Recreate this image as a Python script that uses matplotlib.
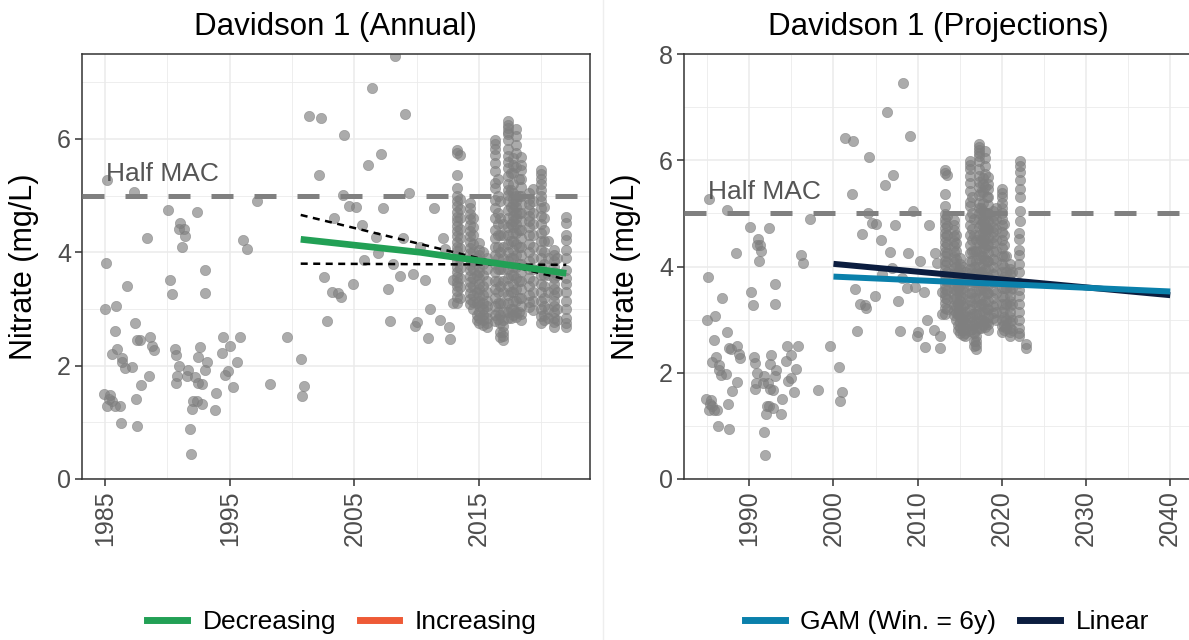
import numpy as np
import matplotlib
matplotlib.use('Agg')
import matplotlib.pyplot as plt
from matplotlib.lines import Line2D
from matplotlib.ticker import MultipleLocator

plt.rcParams['font.family'] = ['Liberation Sans', 'DejaVu Sans']

# scattered nitrate samples (decimal year, mg/L)
sparse_years = [1984.9, 1985.0, 1985.1, 1985.16, 1985.2, 1985.3, 1985.4, 1985.6, 1985.6, 1985.8,
                1985.8, 1985.9, 1986.0, 1986.2, 1986.3, 1986.4, 1986.4, 1986.6, 1986.8, 1987.2,
                1987.3, 1987.4, 1987.5, 1987.6, 1987.6, 1987.8, 1987.9, 1988.4, 1988.5, 1988.6,
                1988.8, 1988.9, 1990.05, 1990.2, 1990.4, 1990.6, 1990.7, 1990.7, 1990.8, 1990.9,
                1990.9, 1991.0, 1991.2, 1991.3, 1991.4, 1991.6, 1991.7, 1991.8, 1991.9, 1992.0,
                1992.1, 1992.2, 1992.4, 1992.4, 1992.5, 1992.5, 1992.6, 1992.8, 1992.8, 1993.0,
                1993.0, 1993.0, 1993.2, 1993.8, 1993.9, 1994.4, 1994.5, 1994.6, 1994.9, 1995.0,
                1995.3, 1995.6, 1995.8, 1996.1, 1996.4, 1997.2, 1998.2, 1999.6, 2000.7, 2000.8,
                2001.0, 2001.4, 2002.2, 2002.3, 2002.6, 2002.8, 2003.2, 2003.4, 2003.7, 2003.9,
                2004.1, 2004.2, 2004.6, 2004.9, 2005.1, 2005.6, 2005.8, 2006.1, 2006.4, 2006.7,
                2006.9, 2007.1, 2007.3, 2007.7, 2007.9, 2008.1, 2008.3, 2008.7, 2008.9, 2009.1,
                2009.4, 2009.7, 2009.9, 2010.0, 2010.3, 2010.7, 2010.9, 2011.1, 2011.4, 2011.9,
                2012.1, 2012.3, 2012.6, 2012.7, 2012.9, 2012.95]
sparse_vals = [1.50, 3.00, 3.81, 5.27, 1.29, 1.41, 1.48, 2.20, 1.37, 2.61,
               1.29, 3.06, 2.30, 1.29, 0.99, 2.14, 2.06, 1.96, 3.41, 1.98,
               5.06, 2.76, 1.41, 2.46, 0.94, 2.45, 1.66, 4.25, 1.82, 2.50,
               2.35, 2.28, 4.74, 3.52, 3.27, 2.30, 2.19, 1.70, 1.81, 2.00,
               4.41, 4.52, 4.10, 4.41, 4.29, 1.81, 1.93, 0.88, 0.45, 1.23,
               1.37, 1.80, 1.37, 4.72, 2.16, 1.70, 2.33, 1.68, 1.33, 1.93,
               3.68, 3.29, 2.06, 1.22, 1.51, 2.22, 2.51, 1.84, 1.90, 2.34,
               1.63, 2.07, 2.51, 4.21, 4.06, 4.90, 1.68, 2.51, 2.11, 1.47,
               1.64, 6.41, 5.37, 6.37, 3.57, 2.79, 3.30, 4.61, 3.28, 3.21,
               5.01, 6.07, 4.81, 3.45, 4.80, 4.49, 3.86, 5.54, 6.90, 4.27,
               3.98, 5.73, 4.78, 3.36, 2.79, 3.79, 7.46, 3.59, 4.25, 6.45,
               5.05, 3.61, 2.70, 2.77, 4.10, 3.52, 2.49, 3.00, 4.78, 2.81,
               4.25, 4.06, 2.69, 2.47, 3.52, 3.11]

# intensive sampling campaigns from 2013 on
camp_dates = [2013.2, 2013.45, 2014.3, 2014.55, 2014.8, 2015.0, 2015.35, 2015.65, 2016.25,
              2016.5, 2016.7, 2016.95, 2017.3, 2017.55, 2017.75, 2018.0, 2018.2, 2018.4,
              2019.0, 2019.3, 2020.0, 2020.25, 2020.5, 2021.0, 2021.25, 2022.0]
camp_vals = [
    [5.81, 5.76, 5.37, 5.14, 4.99, 4.90, 4.81, 4.72, 4.63, 4.55, 4.46, 4.37, 4.28, 4.19, 4.10,
     4.02, 3.93, 3.84, 3.75, 3.66, 3.57, 3.48, 3.40, 3.31, 3.22, 3.10],
    [5.72, 4.95, 4.76, 4.60, 4.42, 4.25, 4.08, 3.90, 3.72, 3.55, 3.38, 3.20],
    [4.87, 4.78, 4.68, 4.58, 4.48, 4.38, 4.28, 4.18, 4.08, 3.98, 3.88, 3.78, 3.68, 3.58, 3.48,
     3.38, 3.28, 3.18, 3.08],
    [4.60, 4.45, 4.30, 4.15, 4.00, 3.85, 3.70, 3.55, 3.40, 3.25, 3.12, 3.00],
    [3.90, 3.60, 3.30, 3.10, 2.90, 2.80],
    [4.16, 4.05, 3.95, 3.85, 3.75, 3.65, 3.55, 3.45, 3.35, 3.25, 3.15, 3.05, 2.95, 2.85, 2.75],
    [4.00, 3.80, 3.60, 3.40, 3.25, 3.10, 3.00, 2.90, 2.80, 2.72],
    [3.90, 3.70, 3.50, 3.30, 3.15, 3.05, 2.95, 2.85, 2.75, 2.69],
    [5.99, 5.92, 5.83, 5.71, 5.57, 5.43, 5.22, 5.13, 4.93, 4.78, 4.60, 4.40, 4.25, 4.10, 3.95,
     3.80, 3.65, 3.50, 3.35, 3.20, 3.05, 2.90, 2.78],
    [5.30, 5.00, 4.70, 4.50, 4.30, 4.10, 3.90, 3.70, 3.50, 3.30, 3.10, 2.95, 2.82],
    [4.90, 4.60, 4.30, 4.00, 3.70, 3.40, 3.10, 2.90, 2.75, 2.60, 2.50],
    [4.50, 4.30, 4.10, 3.90, 3.70, 3.50, 3.30, 3.10, 2.95, 2.80, 2.70, 2.60, 2.52, 2.45],
    [6.31, 6.25, 6.19, 6.13, 6.08, 5.98, 5.83, 5.70, 5.60, 5.49, 5.34, 5.20, 5.10, 5.01, 4.90,
     4.75, 4.60, 4.45, 4.30, 4.15, 4.00, 3.85, 3.70, 3.55, 3.40, 3.25, 3.10, 2.95, 2.85],
    [5.40, 5.10, 4.80, 4.50, 4.20, 3.90, 3.60, 3.30, 3.00, 2.85],
    [5.67, 5.55, 5.40, 5.20, 5.05, 4.95, 4.85, 4.75, 4.65, 4.55, 4.45, 4.35, 4.20, 4.05, 3.90,
     3.75, 3.60, 3.45, 3.30, 3.15, 3.00, 2.90],
    [6.17, 6.05, 5.90, 5.75, 5.50, 5.00, 4.90, 4.80, 4.70, 4.60, 4.50, 4.35, 4.15, 3.95, 3.75,
     3.55, 3.35, 3.15, 2.95, 2.86],
    [5.30, 5.00, 4.70, 4.40, 4.10, 3.80, 3.50, 3.20, 2.95],
    [5.69, 5.55, 5.45, 5.30, 5.15, 5.00, 4.85, 4.70, 4.55, 4.40, 4.25, 4.10, 3.95, 3.80, 3.65,
     3.50, 3.35, 3.20, 3.05, 2.92, 2.81],
    [5.05, 4.95, 4.85, 4.75, 4.65, 4.55, 4.45, 4.30, 4.15, 4.00, 3.85, 3.70, 3.55, 3.40, 3.25,
     3.12, 3.04],
    [5.11, 4.90, 4.70, 4.50, 4.30, 4.10, 3.90, 3.70, 3.50, 3.30, 3.15, 2.99],
    [5.46, 5.38, 5.30, 5.20, 5.10, 5.00, 4.90, 4.78, 4.65, 4.50, 4.35, 4.20, 4.05, 3.90, 3.75,
     3.60, 3.45, 3.30, 3.15, 3.00, 2.88, 2.76],
    [4.80, 4.60, 4.40, 4.20, 4.00, 3.80, 3.60, 3.40, 3.20, 3.05, 2.90, 2.80],
    [4.20, 3.90, 3.60, 3.30, 3.00, 2.85],
    [4.05, 3.95, 3.85, 3.75, 3.65, 3.55, 3.45, 3.35, 3.25, 3.15, 3.05, 2.95, 2.85, 2.77, 2.69],
    [3.90, 3.60, 3.30, 3.00, 2.80],
    [4.63, 4.51, 4.31, 4.22, 4.05, 3.90, 3.69, 3.55, 3.45, 3.30, 3.15, 3.00, 2.85, 2.75, 2.69],
]

# late 2022 samples only in the projection series
extra_dates = [2022.1, 2022.1, 2022.1, 2022.1, 2022.1, 2022.1, 2022.1, 2022.1, 2022.9, 2022.9]
extra_vals = [5.98, 5.90, 5.78, 5.62, 5.45, 5.30, 5.05, 4.85, 2.55, 2.47]

# trend fit on annual data with confidence bounds
trend_years = [2000.7, 2010.3, 2022.0]
trend_vals = [4.23, 4.00, 3.63]
upper_years = [2000.7, 2022.0]
upper_vals = [4.66, 3.52]
lower_years = [2000.7, 2022.0]
lower_vals = [3.80, 3.78]

# projections to 2040
proj_years = [2000, 2040]
gam_vals = [3.81, 3.53]
linear_vals = [4.05, 3.46]

half_mac = 5.0

x_all = list(sparse_years)
y_all = list(sparse_vals)
for d, vals in zip(camp_dates, camp_vals):
    x_all += [d] * len(vals)
    y_all += vals
x_proj = x_all + extra_dates
y_proj = y_all + extra_vals

col_green = '#22a055'
col_red = '#ee5a36'
col_gam = '#0a80ab'
col_lin = '#0b1d3f'
grid_col = '#ebebeb'
frame_col = '#333333'

fig = plt.figure(figsize=(11.89, 6.4), dpi=100)
ax1 = fig.add_axes([82/1189, 1-479/640, 508/1189, 425/640])
ax2 = fig.add_axes([684/1189, 1-479/640, 509.4/1189, 425/640])


def style(ax, xmaj, ymaj=2):
    ax.xaxis.set_major_locator(MultipleLocator(xmaj))
    ax.xaxis.set_minor_locator(MultipleLocator(xmaj / 2))
    ax.yaxis.set_major_locator(MultipleLocator(ymaj))
    ax.yaxis.set_minor_locator(MultipleLocator(ymaj / 2))
    ax.grid(which='major', color=grid_col, lw=1.1, zorder=0)
    ax.grid(which='minor', color=grid_col, lw=0.6, zorder=0)
    ax.set_axisbelow(True)
    for s in ax.spines.values():
        s.set_color(frame_col)
        s.set_linewidth(1.1)
    ax.tick_params(which='major', length=5, width=1.1, color=frame_col, labelsize=18,
                   labelcolor='#4d4d4d', pad=3)
    ax.tick_params(which='minor', length=0)
    ax.tick_params(axis='x', labelrotation=90)
    ax.set_ylabel('Nitrate (mg/L)', fontsize=22)
    ax.yaxis.set_label_coords(-0.085, 0.5)


def points(ax, xs, ys):
    ax.scatter(xs, ys, s=55, color='#7f7f7f', alpha=0.65, edgecolors='#7f7f7f',
               linewidths=0.5, zorder=2)
    ax.axhline(half_mac, color='#808080', lw=3.6, dashes=(4.4, 4.2), zorder=3)
    ax.text(1985.1, half_mac + 0.17, 'Half MAC', fontsize=19, color='#555555',
            ha='left', va='bottom', zorder=5)


# annual panel
points(ax1, x_all, y_all)
ax1.plot(upper_years, upper_vals, color='black', lw=1.8, dashes=(2.8, 2.2), zorder=4)
ax1.plot(lower_years, lower_vals, color='black', lw=1.8, dashes=(2.8, 2.2), zorder=4)
ax1.plot(trend_years, trend_vals, color=col_green, lw=4.8, solid_capstyle='butt', zorder=4)
ax1.set_xlim(1983.16, 2023.9)
ax1.set_ylim(0, 7.5)
style(ax1, 10)
ax1.set_xticks([1985, 1995, 2005, 2015])
ax1.set_xticks([1990, 2000, 2010, 2020], minor=True)
ax1.set_title('Davidson 1 (Annual)', fontsize=22.5, pad=14)

# projection panel
points(ax2, x_proj, y_proj)
ax2.plot(proj_years, linear_vals, color=col_lin, lw=4.3, solid_capstyle='butt', zorder=4)
ax2.plot(proj_years, gam_vals, color=col_gam, lw=4.3, solid_capstyle='butt', zorder=4)
ax2.set_xlim(1982.25, 2042.75)
ax2.set_ylim(0, 8)
style(ax2, 10)
ax2.set_title('Davidson 1 (Projections)', fontsize=22.5, pad=14)

fig.add_artist(Line2D([603/1189, 603/1189], [0, 1], color='#eeeeee', lw=1))

h1 = [Line2D([], [], color=col_green, lw=5), Line2D([], [], color=col_red, lw=5)]
fig.legend(h1, ['Decreasing', 'Increasing'], loc='center', bbox_to_anchor=(342/1189, 0.028),
           ncol=2, frameon=False, fontsize=19, handlelength=1.5, handletextpad=0.6,
           columnspacing=0.9)
h2 = [Line2D([], [], color=col_gam, lw=5), Line2D([], [], color=col_lin, lw=5)]
fig.legend(h2, ['GAM (Win. = 6y)', 'Linear'], loc='center', bbox_to_anchor=(947/1189, 0.028),
           ncol=2, frameon=False, fontsize=19, handlelength=1.5, handletextpad=0.6,
           columnspacing=0.9)

fig.savefig('out.png', dpi=100)
